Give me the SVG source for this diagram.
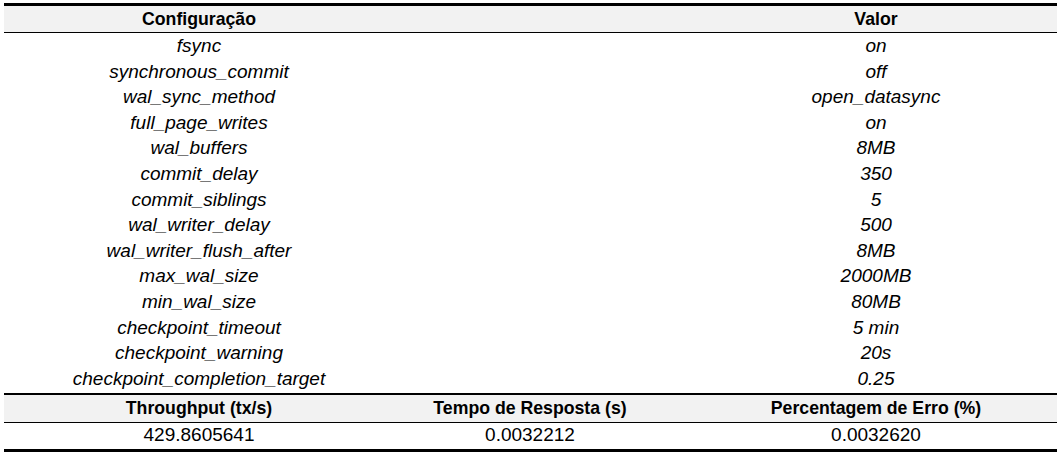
<svg xmlns="http://www.w3.org/2000/svg" width="1061" height="455" viewBox="0 0 1061 455">
<style>
text{font-family:"Liberation Sans",Arial,sans-serif;font-size:19px;fill:#000;text-anchor:middle}
.h{font-weight:bold;font-size:17.7px}
.i{font-style:italic}
.band{fill:#f2f2f2}
.rule{fill:#000}
</style>
<rect x="0" y="0" width="1061" height="455" fill="#fff"/>
<g id="rules">
<rect class="band" x="4" y="6" width="1053" height="26"/>
<rect class="band" x="4" y="395" width="1053" height="27"/>
<rect class="rule" x="4" y="3" width="1053" height="3"/>
<rect class="rule" x="4" y="32" width="1053" height="1"/>
<rect class="rule" x="4" y="393" width="1053" height="2"/>
<rect class="rule" x="4" y="422" width="1053" height="1"/>
<rect class="rule" x="4" y="449" width="1053" height="3"/>
</g>
<g id="header">
<text class="h" x="199" y="25">Configuração</text>
<text class="h" x="876" y="25">Valor</text>
</g>
<g id="config">
<text class="i" x="199" y="52">fsync</text>
<text class="i" x="199" y="77.6">synchronous_commit</text>
<text class="i" x="199" y="103.2">wal_sync_method</text>
<text class="i" x="199" y="128.8">full_page_writes</text>
<text class="i" x="199" y="154.4">wal_buffers</text>
<text class="i" x="199" y="180">commit_delay</text>
<text class="i" x="199" y="205.6">commit_siblings</text>
<text class="i" x="199" y="231.2">wal_writer_delay</text>
<text class="i" x="199" y="256.8">wal_writer_flush_after</text>
<text class="i" x="199" y="282.4">max_wal_size</text>
<text class="i" x="199" y="308">min_wal_size</text>
<text class="i" x="199" y="333.6">checkpoint_timeout</text>
<text class="i" x="199" y="359.2">checkpoint_warning</text>
<text class="i" x="199" y="384.8">checkpoint_completion_target</text>
</g>
<g id="values">
<text class="i" x="876" y="52">on</text>
<text class="i" x="876" y="77.6">off</text>
<text class="i" x="876" y="103.2">open_datasync</text>
<text class="i" x="876" y="128.8">on</text>
<text class="i" x="876" y="154.4">8MB</text>
<text class="i" x="876" y="180">350</text>
<text class="i" x="876" y="205.6">5</text>
<text class="i" x="876" y="231.2">500</text>
<text class="i" x="876" y="256.8">8MB</text>
<text class="i" x="876" y="282.4">2000MB</text>
<text class="i" x="876" y="308">80MB</text>
<text class="i" x="876" y="333.6">5 min</text>
<text class="i" x="876" y="359.2">20s</text>
<text class="i" x="876" y="384.8">0.25</text>
</g>
<g id="results">
<text class="h" x="199" y="414">Throughput (tx/s)</text>
<text class="h" x="530" y="414">Tempo de Resposta (s)</text>
<text class="h" x="876" y="414">Percentagem de Erro (%)</text>
<text x="199" y="441">429.8605641</text>
<text x="530" y="441">0.0032212</text>
<text x="876" y="441">0.0032620</text>
</g>
</svg>
